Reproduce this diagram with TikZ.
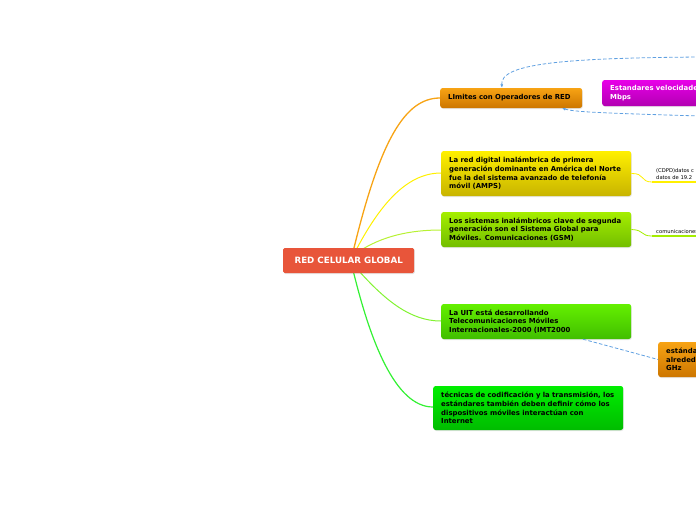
\documentclass[tikz,border=0pt]{standalone}
\usepackage{fontspec}
\setmainfont{DejaVu Sans}
\usetikzlibrary{arrows.meta,calc,shadows}
\definecolor{rootred}{RGB}{232,85,58}
\definecolor{linkblue}{RGB}{95,160,225}
\definecolor{orA}{RGB}{247,163,20}\definecolor{orB}{RGB}{205,118,0}
\definecolor{yeA}{RGB}{255,240,0}\definecolor{yeB}{RGB}{200,180,0}
\definecolor{ygA}{RGB}{165,238,0}\definecolor{ygB}{RGB}{115,190,0}
\definecolor{grA}{RGB}{100,240,0}\definecolor{grB}{RGB}{65,190,0}
\definecolor{bgA}{RGB}{0,238,0}\definecolor{bgB}{RGB}{0,188,0}
\definecolor{mgA}{RGB}{232,0,232}\definecolor{mgB}{RGB}{178,0,178}
\begin{document}
\begin{tikzpicture}[x=1pt,y=-1pt,
  topic/.style={anchor=west,align=left,rounded corners=2.5pt,inner xsep=8pt,inner ysep=0pt,
    font=\bfseries\fontsize{6.9}{8.7}\selectfont,
    drop shadow={shadow xshift=0.6pt,shadow yshift=-1pt,opacity=0.2}},
  leaf/.style={anchor=south west,align=left,inner xsep=4pt,inner ysep=2.5pt,text width=70pt,
    font=\fontsize{5.2}{7.2}\selectfont},
  branch/.style={line width=1pt},
  link/.style={linkblue,dashed,dash pattern=on 3.5pt off 2pt,line width=0.8pt}]
\useasboundingbox (0,0) rectangle (696,520);
\clip (0,0) rectangle (696,520);
% branches from the centre
\coordinate (c) at (352,262);
\draw[branch,orA,line width=1.3pt] ($(c)+(1,-10)$) .. controls (380,140) and (405,98) .. (440,98);
\draw[branch,yeA] ($(c)+(3,-10)$) .. controls (378,208) and (405,173) .. (441,173);
\draw[branch,ygA!80!white] ($(c)+(6,-10)$) .. controls (382,236) and (410,230) .. (441,230);
\draw[branch,grA!80!white] ($(c)+(6,8)$) .. controls (385,300) and (410,321) .. (441,321);
\draw[branch,bgA!80!white,line width=1.2pt] ($(c)+(1,8)$) .. controls (370,340) and (395,407) .. (433,407);
\node[topic,fill=rootred,text=white,font=\bfseries\fontsize{8.7}{9.5}\selectfont,align=center,
  minimum width=131pt,minimum height=25pt,rounded corners=1.5pt] (root) at (283,260.5) {RED CELULAR GLOBAL};
\node[topic,top color=orA,bottom color=orB,text width=126pt,minimum height=20pt] (n1) at (440,98) {LImites con Operadores de RED};
\node[topic,top color=yeA,bottom color=yeB,text width=174pt,minimum height=45pt] (n2) at (441,173.5)
  {La red digital inalámbrica de primera\\generación dominante en América del Norte\\fue la del sistema avanzado de telefonía\\móvil (AMPS)};
\node[topic,top color=ygA,bottom color=ygB,text width=174pt,minimum height=35pt] (n3) at (441,229.5)
  {Los sistemas inalámbricos clave de segunda\\generación son el Sistema Global para\\Móviles. Comunicaciones (GSM)};
\node[topic,top color=grA,bottom color=grB,text width=174pt,minimum height=35pt] (n4) at (441,321.5)
  {La UIT está desarrollando\\Telecomunicaciones Móviles\\Internacionales-2000 (IMT2000};
\node[topic,top color=bgA,bottom color=bgB,text width=174pt,minimum height=44pt] (n5) at (433,408)
  {técnicas de codificación y la transmisión, los\\estándares también deben definir cómo los\\dispositivos móviles interactúan con\\Internet};
\node[topic,top color=mgA,bottom color=mgB,text=white,text width=150pt,minimum height=26pt] (m1) at (602,93)
  {Estandares velocidades\\Mbps};
\node[topic,top color=orA,bottom color=orB,text width=80pt,minimum height=35pt] (o1) at (658,359.5)
  {estándares\\alrededor\\GHz};
% sub topics
\node[leaf] (t1) at (652,182) {(CDPD)datos c\\datos de 19.2};
\node[leaf] (t2) at (652,236) {comunicaciones};
\draw[yeA,line width=0.8pt] (n2.east) .. controls (645,173) and (640,182) .. (t1.south west);
\draw[yeA,line width=2pt] (t1.south west)--(t1.south east);
\draw[ygA,line width=0.8pt] (n3.east) .. controls (645,230) and (640,236) .. (t2.south west);
\draw[ygA,line width=2pt] (t2.south west)--(t2.south east);
% relations
\coordinate (r1) at (700,57); \coordinate (r2) at (700,116);
\draw[link,-{Latex[length=3.5pt,width=3pt]}] (r1) .. controls (560,58) and (500,64) .. ([xshift=62pt]n1.north west);
\draw[link,-{Latex[length=3.5pt,width=3pt]}] (r2) .. controls (600,113) and (575,112) .. ([xshift=122pt]n1.south west);
\draw[link] ([xshift=142pt]n4.south west) .. controls (612,347) .. (o1.west);
\end{tikzpicture}
\end{document}
